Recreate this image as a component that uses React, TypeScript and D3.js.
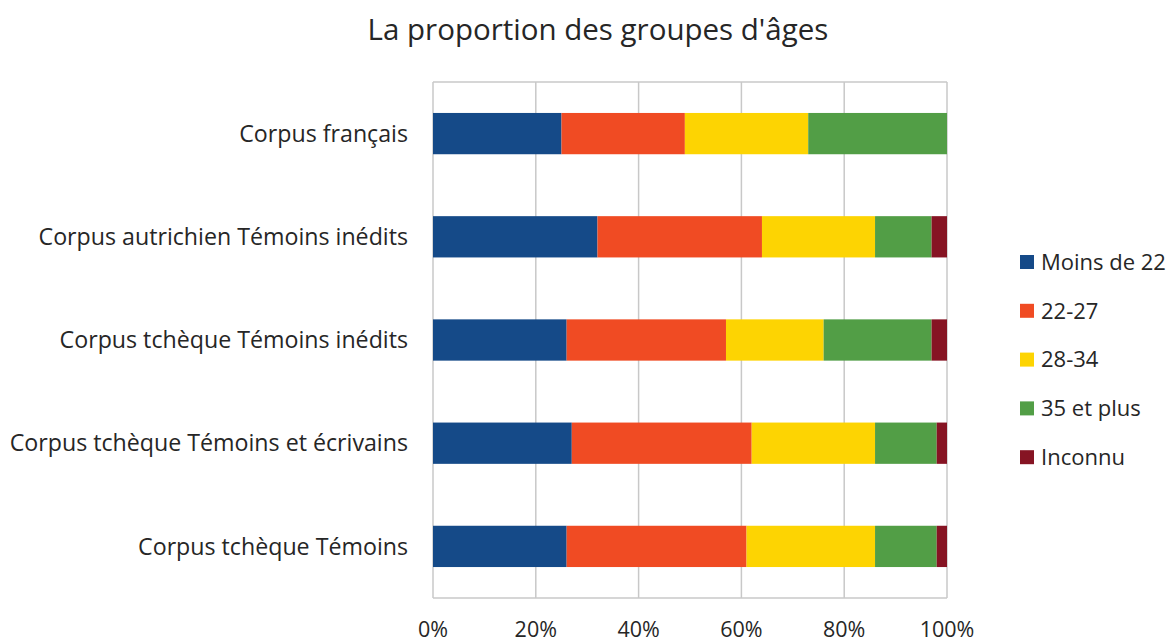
import React from 'react';
import * as d3 from 'd3';

const categories = [
  'Corpus français',
  'Corpus autrichien Témoins inédits',
  'Corpus tchèque Témoins inédits',
  'Corpus tchèque Témoins et écrivains',
  'Corpus tchèque Témoins',
];
const groups = ['Moins de 22', '22-27', '28-34', '35 et plus', 'Inconnu'];
const colors = ['#154A88', '#F04B23', '#FDD402', '#529E46', '#861423'];

const moins22 = [25, 32, 26, 27, 26];
const age22_27 = [24, 32, 31, 35, 35];
const age28_34 = [24, 22, 19, 24, 25];
const plus35 = [27, 11, 21, 12, 12];
const inconnu = [0, 3, 3, 2, 2];

const xTicks = [0, 0.2, 0.4, 0.6, 0.8, 1];

const width = 1175;
const height = 644;
const font = 'Open Sans, sans-serif';

export default function App() {
  const series = [moins22, age22_27, age28_34, plus35, inconnu];
  const rows = categories.map((c, i) => {
    const r: any = { cat: c };
    groups.forEach((g, j) => (r[g] = series[j][i]));
    return r;
  });
  const stacked = d3.stack().keys(groups).offset(d3.stackOffsetExpand)(rows);

  const x = d3.scaleLinear().domain([0, 1]).range([433, 947]);
  const y = d3.scaleBand().domain(categories).range([82, 598]).paddingInner(0.6).paddingOuter(0.3);
  const fmt = d3.format('.0%');

  return (
    <svg width={width} height={height} style={{ position: 'absolute', left: 0, top: 0 }}>
      <rect width={width} height={height} fill="#fff" />
      <text x={598} y={40} textAnchor="middle" fontFamily={font} fontSize={29.5} fill="#262626">
        La proportion des groupes d'âges
      </text>
      {xTicks.map((t) => (
        <line key={t} x1={x(t)} x2={x(t)} y1={82} y2={598} stroke="#C8C8C8" strokeWidth={1.5} />
      ))}
      <line x1={x(0)} x2={x(1)} y1={598} y2={598} stroke="#C8C8C8" strokeWidth={1.5} />
      <line x1={x(0)} x2={x(1)} y1={82} y2={82} stroke="#C8C8C8" strokeWidth={1.5} />
      {stacked.map((s, j) => (
        <g key={s.key} fill={colors[j]}>
          {s.map((d: any, i) => (
            <rect
              key={i}
              x={x(d[0])}
              width={Math.max(0, x(d[1]) - x(d[0]))}
              y={y(d.data.cat)}
              height={y.bandwidth()}
            />
          ))}
        </g>
      ))}
      {categories.map((c) => (
        <text
          key={c}
          x={408}
          y={(y(c) as number) + y.bandwidth() / 2}
          dy="0.35em"
          textAnchor="end"
          fontFamily={font}
          fontSize={23.2}
          fill="#262626"
        >
          {c}
        </text>
      ))}
      {xTicks.map((t) => (
        <text key={t} x={x(t)} y={637} textAnchor="middle" fontFamily={font} fontSize={21.5} fill="#262626">
          {fmt(t)}
        </text>
      ))}
      {groups.map((g, j) => (
        <g key={g} transform={`translate(1020, ${262 + j * 48.8})`}>
          <rect x={0} y={-7} width={14} height={14} fill={colors[j]} />
          <text x={21} y={0} dy="0.35em" fontFamily={font} fontSize={22} fill="#262626">
            {g}
          </text>
        </g>
      ))}
    </svg>
  );
}
